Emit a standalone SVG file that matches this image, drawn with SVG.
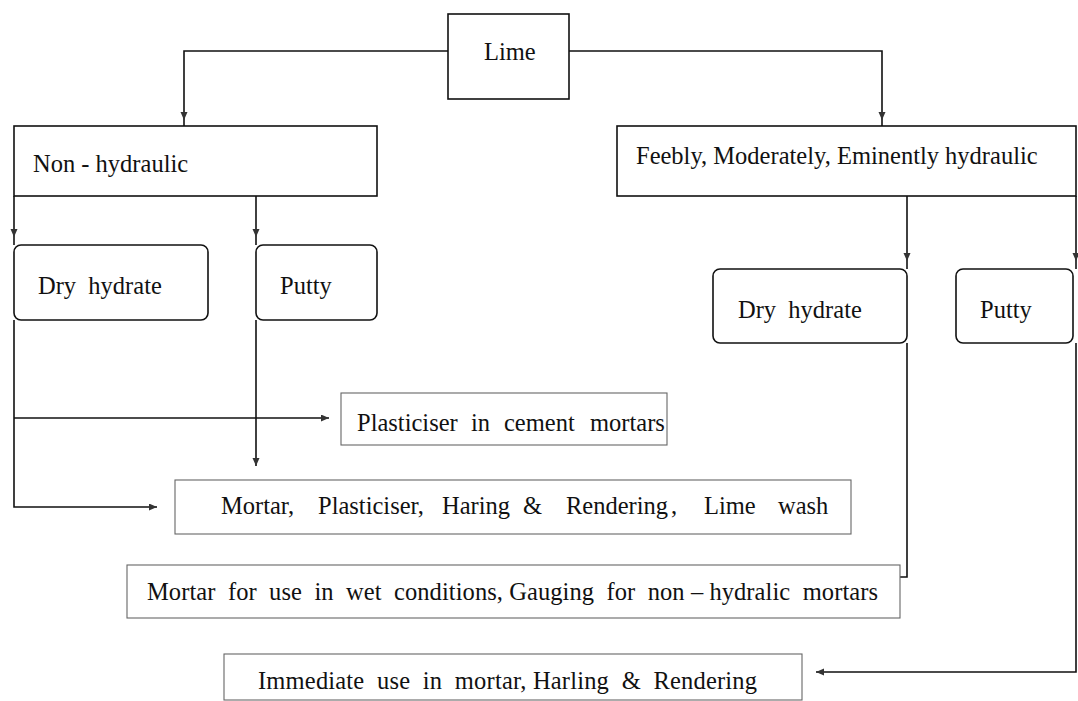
<svg xmlns="http://www.w3.org/2000/svg" width="1078" height="701" viewBox="0 0 1078 701">
<style>
text{font-family:"Liberation Serif","Times New Roman",serif;font-size:24.5px;fill:#111}
.box{fill:#fff;stroke:#111;stroke-width:1.6}
.rbox{fill:#fff;stroke:#111;stroke-width:1.6}
.tbox{fill:#fff;stroke:#666;stroke-width:1.1}
.ln{fill:none;stroke:#111;stroke-width:1.6}
</style>
<defs>
<marker id="ah" markerWidth="9" markerHeight="8" refX="8" refY="3.5" orient="auto" markerUnits="userSpaceOnUse">
<path d="M0,0 L8,3.5 L0,7 z" fill="#333"/>
</marker>
</defs>
<g id="connectors">
<path class="ln" d="M448,51 H184 V120" marker-end="url(#ah)"/>
<path class="ln" d="M184,120 V126"/>
<path class="ln" d="M569,51 H882 V120" marker-end="url(#ah)"/>
<path class="ln" d="M882,120 V126"/>
<path class="ln" d="M14,196 V237" marker-end="url(#ah)"/>
<path class="ln" d="M14,237 V245"/>
<path class="ln" d="M256,196 V237" marker-end="url(#ah)"/>
<path class="ln" d="M256,237 V245"/>
<path class="ln" d="M907,196 V261" marker-end="url(#ah)"/>
<path class="ln" d="M907,261 V269"/>
<path class="ln" d="M1076,196 V261" marker-end="url(#ah)"/>
<path class="ln" d="M1076,261 V269"/>
<path class="ln" d="M14,320 V507 H157" marker-end="url(#ah)"/>
<path class="ln" d="M14,418 H329" marker-end="url(#ah)"/>
<path class="ln" d="M256,320 V466" marker-end="url(#ah)"/>
<path class="ln" d="M907,343 V577 H886" marker-end="url(#ah)"/>
<path class="ln" d="M1076,343 V672 H816" marker-end="url(#ah)"/>
</g>
<g id="lime">
<rect class="box" x="448" y="14" width="121" height="85"/>
<text x="484" y="60">Lime</text>
</g>
<g id="non-hydraulic">
<rect class="box" x="14" y="126" width="363" height="70"/>
<text x="33" y="172">Non - hydraulic</text>
</g>
<g id="hydraulic">
<rect class="box" x="617" y="126" width="459" height="70"/>
<text x="636" y="164">Feebly, Moderately, Eminently hydraulic</text>
</g>
<g id="dry-hydrate-left">
<rect class="rbox" x="14" y="245" width="194" height="75" rx="7"/>
<text x="38" y="294" xml:space="preserve">Dry  hydrate</text>
</g>
<g id="putty-left">
<rect class="rbox" x="256" y="245" width="121" height="75" rx="7"/>
<text x="280" y="294">Putty</text>
</g>
<g id="dry-hydrate-right">
<rect class="rbox" x="713" y="269" width="194" height="74" rx="7"/>
<text x="738" y="318" xml:space="preserve">Dry  hydrate</text>
</g>
<g id="putty-right">
<rect class="rbox" x="956" y="269" width="117" height="74" rx="7"/>
<text x="980" y="318">Putty</text>
</g>
<g id="plasticiser">
<rect class="tbox" x="341" y="393" width="326" height="52"/>
<text y="431"><tspan x="357">Plasticiser</tspan><tspan x="471">in</tspan><tspan x="504">cement</tspan><tspan x="590">mortars</tspan></text>
</g>
<g id="mortar-uses">
<rect class="tbox" x="175" y="480" width="676" height="54"/>
<text y="514"><tspan x="221">Mortar,</tspan><tspan x="318">Plasticiser,</tspan><tspan x="442">Haring</tspan><tspan x="523">&amp;</tspan><tspan x="566">Rendering</tspan><tspan x="671">,</tspan><tspan x="704">Lime</tspan><tspan x="778">wash</tspan></text>
</g>
<g id="wet-conditions">
<rect class="tbox" x="127" y="565" width="773" height="53"/>
<text x="147" y="600" textLength="731" lengthAdjust="spacing" xml:space="preserve">Mortar  for  use  in  wet  conditions, Gauging  for  non – hydralic  mortars</text>
</g>
<g id="immediate-use">
<rect class="tbox" x="224" y="654" width="578" height="46"/>
<text x="258" y="689" textLength="499" lengthAdjust="spacing" xml:space="preserve">Immediate  use  in  mortar, Harling  &amp;  Rendering</text>
</g>
</svg>
